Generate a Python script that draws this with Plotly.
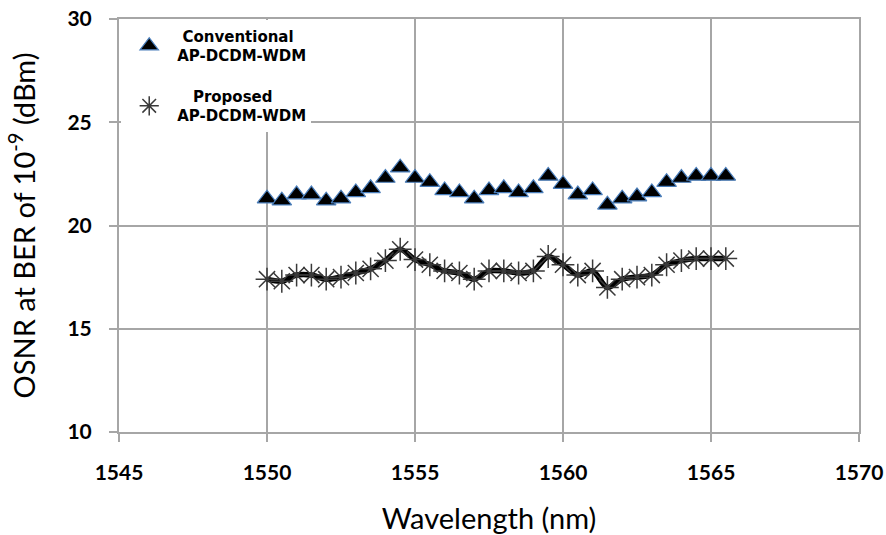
import plotly.graph_objects as go

wavelength = [1550.0, 1550.5, 1551.0, 1551.5, 1552.0, 1552.5, 1553.0, 1553.5,
              1554.0, 1554.5, 1555.0, 1555.5, 1556.0, 1556.5, 1557.0, 1557.5,
              1558.0, 1558.5, 1559.0, 1559.5, 1560.0, 1560.5, 1561.0, 1561.5,
              1562.0, 1562.5, 1563.0, 1563.5, 1564.0, 1564.5, 1565.0, 1565.5]

conventional = [21.3, 21.2, 21.5, 21.5, 21.2, 21.3, 21.6, 21.8,
                22.3, 22.8, 22.3, 22.1, 21.7, 21.6, 21.3, 21.7,
                21.8, 21.6, 21.8, 22.4, 22.0, 21.5, 21.7, 21.0,
                21.3, 21.4, 21.6, 22.1, 22.3, 22.4, 22.4, 22.4]

proposed = [17.4, 17.3, 17.6, 17.6, 17.4, 17.5, 17.7, 17.9,
            18.3, 18.85, 18.35, 18.1, 17.8, 17.7, 17.4, 17.8,
            17.8, 17.7, 17.8, 18.5, 18.1, 17.6, 17.8, 17.0,
            17.4, 17.5, 17.6, 18.1, 18.3, 18.4, 18.4, 18.4]

x_ticks = [1545, 1550, 1555, 1560, 1565, 1570]
y_ticks = [10, 15, 20, 25, 30]

GRID = "#a6a6a6"
NB = "\u00a0"

fig = go.Figure()

fig.add_trace(go.Scatter(
    x=wavelength, y=conventional, mode="markers",
    name=NB + "Conventional<br>AP-DCDM-WDM", legendgroup="a",
    marker=dict(symbol="triangle-up", size=17, color="black",
                line=dict(color="#4a7ebb", width=1.2)),
))

fig.add_trace(go.Scatter(
    x=wavelength, y=proposed, mode="lines", showlegend=False,
    line=dict(color="black", width=5.5, shape="spline", smoothing=0.8),
    hoverinfo="skip",
))

fig.add_trace(go.Scatter(
    x=wavelength, y=proposed, mode="markers",
    name=NB * 3 + "Proposed<br>AP-DCDM-WDM", legendgroup="b",
    marker=dict(symbol="asterisk-open", size=19, color="#3a3a3a",
                line=dict(color="#3a3a3a", width=1.5)),
))

fig.update_layout(
    width=886, height=535,
    margin=dict(l=119, r=27, t=19, b=103),
    paper_bgcolor="white", plot_bgcolor="white",
    font=dict(family="Lato", color="black"),
    legend=dict(
        x=0.003, y=0.998, xanchor="left", yanchor="top",
        bgcolor="white", borderwidth=0,
        font=dict(family="DejaVu Sans", size=15, color="black", weight="bold"),
        traceorder="grouped", tracegroupgap=18,
        itemwidth=46,
    ),
    xaxis=dict(
        range=[1545, 1570], tickvals=x_ticks, ticktext=[str(v) for v in x_ticks],
        showgrid=True, gridcolor=GRID, gridwidth=2,
        showline=True, linecolor=GRID, linewidth=2, mirror=True,
        ticks="outside", ticklen=8, tickwidth=2, tickcolor=GRID,
        tickfont=dict(family="Lato", size=21, weight="bold"),
        ticklabelstandoff=13, ticklabeloverflow="allow",
        zeroline=False, automargin=False,
        title=dict(text="Wavelength (nm)", font=dict(family="Lato", size=29), standoff=32),
    ),
    yaxis=dict(
        range=[10, 30], tickvals=y_ticks, ticktext=[str(v) for v in y_ticks],
        showgrid=True, gridcolor=GRID, gridwidth=2,
        showline=True, linecolor=GRID, linewidth=2, mirror=True,
        ticks="outside", ticklen=8, tickwidth=2, tickcolor=GRID,
        tickfont=dict(family="Lato", size=21, weight="bold"),
        ticklabelstandoff=13, ticklabeloverflow="allow",
        zeroline=False, automargin=False,
        title=dict(text="OSNR at BER of 10<sup>-9</sup> (dBm)", font=dict(family="Lato", size=29), standoff=23),
    ),
)

# remove the browser's default 8px body margin so the figure fills the window
fig.write_html("out.html", config={"displayModeBar": False},
               post_script="document.body.style.margin='0px';")
